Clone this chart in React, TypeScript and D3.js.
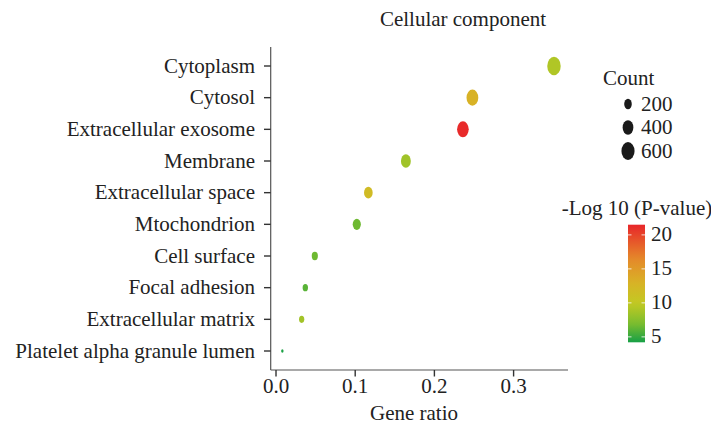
import React from "react";
import * as d3 from "d3";

const categories = [
  "Cytoplasm",
  "Cytosol",
  "Extracellular exosome",
  "Membrane",
  "Extracellular space",
  "Mtochondrion",
  "Cell surface",
  "Focal adhesion",
  "Extracellular matrix",
  "Platelet alpha granule lumen",
];
const geneRatio = [0.351, 0.248, 0.236, 0.164, 0.1166, 0.102, 0.049, 0.037, 0.0324, 0.008];
const counts = [630, 480, 470, 340, 260, 230, 130, 100, 95, 20];
const logP = [9.2, 13, 21.3, 8.5, 11.8, 6.6, 6.6, 6.0, 8.6, 4.3];
const xTicks = [0, 0.1, 0.2, 0.3];
const sizeLegend = [200, 400, 600];
const colorTicks = [5, 10, 15, 20];
const colorStops = [4.2, 7, 10, 13, 16.5, 21.5];
const colorValues = ["#17a046", "#7dbd2e", "#c3c923", "#d8b226", "#e5882a", "#e8262a"];

const FONT = "Liberation Serif";
const TEXT = "#222";
const FS = 21;

export default function App() {
  const W = 711, H = 433;
  const x = d3.scaleLinear().domain([-0.0067, 0.3687]).range([270.7, 568]);
  const y = d3.scalePoint<string>().domain(categories).range([47, 370]).padding(0.6);
  const r = d3.scaleSqrt().domain([0, 600]).range([0, 9]);
  const color = d3.scaleLinear<string>().domain(colorStops).range(colorValues).interpolate(d3.interpolateRgb);
  const aspect = 0.73;

  const cbTop = 224.7, cbBot = 342.3, cbX = 628, cbW = 17;
  const cbScale = d3.scaleLinear().domain([4.2, 21.5]).range([cbBot, cbTop]);
  const gradStops = d3.range(0, 1.0001, 0.05).map((t) => {
    const v = 4.2 + t * (21.5 - 4.2);
    return { offset: t, c: color(v) };
  });
  const ts = { fontFamily: FONT, fontSize: FS, fill: TEXT } as React.CSSProperties;

  return (
    <svg width={W} height={H} style={{ position: "absolute", left: 0, top: 0, background: "#fff" }}>
      <defs>
        <linearGradient id="cb" x1="0" y1="1" x2="0" y2="0">
          {gradStops.map((s, i) => (
            <stop key={i} offset={s.offset} stopColor={s.c} />
          ))}
        </linearGradient>
      </defs>
      <rect width={W} height={H} fill="#fff" />
      <text x={463} y={26} textAnchor="middle" style={ts}>Cellular component</text>

      {/* axes */}
      <line x1={270.7} x2={270.7} y1={47} y2={370} stroke="#555" strokeWidth={1.2} />
      <line x1={270.7} x2={568} y1={370} y2={370} stroke="#555" strokeWidth={1.2} />
      {categories.map((c) => (
        <g key={c}>
          <line x1={264} x2={270.7} y1={y(c)} y2={y(c)} stroke="#333" strokeWidth={1.4} />
          <text x={255} y={y(c)! + 6.5} textAnchor="end" style={ts}>{c}</text>
        </g>
      ))}
      {xTicks.map((t) => (
        <g key={t}>
          <line x1={x(t)} x2={x(t)} y1={370} y2={376.5} stroke="#333" strokeWidth={1.4} />
          <text x={x(t)} y={393} textAnchor="middle" style={ts}>{t.toFixed(1)}</text>
        </g>
      ))}
      <text x={414} y={420} textAnchor="middle" style={ts}>Gene ratio</text>

      {/* points */}
      {categories.map((c, i) => (
        <ellipse key={c} cx={x(geneRatio[i])} cy={y(c)} rx={r(counts[i]) * aspect} ry={r(counts[i])} fill={color(logP[i])} />
      ))}

      {/* size legend */}
      <text x={603} y={85} style={ts}>Count</text>
      {sizeLegend.map((s, i) => (
        <g key={s}>
          <ellipse cx={628} cy={104 + i * 23.5} rx={r(s) * aspect} ry={r(s)} fill="#1a1a1a" />
          <text x={641} y={104 + i * 23.5 + 6.5} style={ts}>{s}</text>
        </g>
      ))}

      {/* color legend */}
      <text x={637} y={215} textAnchor="middle" style={ts}>-Log 10 (P-value)</text>
      <rect x={cbX} y={cbTop} width={cbW} height={cbBot - cbTop} fill="url(#cb)" />
      {colorTicks.map((t) => (
        <g key={t}>
          <line x1={cbX} x2={cbX + 3.5} y1={cbScale(t)} y2={cbScale(t)} stroke="#fff" strokeWidth={1} opacity={0.8} />
          <line x1={cbX + cbW - 3.5} x2={cbX + cbW} y1={cbScale(t)} y2={cbScale(t)} stroke="#fff" strokeWidth={1} opacity={0.8} />
          <text x={651} y={cbScale(t) + 6.5} style={ts}>{t}</text>
        </g>
      ))}
    </svg>
  );
}
